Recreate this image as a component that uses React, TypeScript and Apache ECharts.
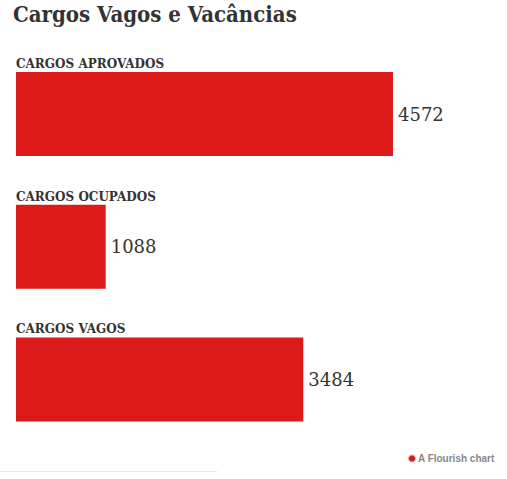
import React, { useEffect, useRef } from "react";
import * as echarts from "echarts";

const categories = ["CARGOS APROVADOS", "CARGOS OCUPADOS", "CARGOS VAGOS"];
const values = [4572, 1088, 3484];
const titleText = "Cargos Vagos e Vacâncias";
const creditText = "A Flourish chart";

const SERIF = "'DejaVu Serif Condensed', 'DejaVu Serif', 'Liberation Serif', serif";
const SERIF_W = "'DejaVu Serif', 'Liberation Serif', serif";

export default function App() {
  const ref = useRef<HTMLDivElement>(null);
  useEffect(() => {
    if (!ref.current) return;
    const chart = echarts.init(ref.current, null, { renderer: "svg" });
    chart.setOption({
      animation: false,
      title: {
        text: titleText,
        left: 13,
        top: 3,
        padding: 0,
        textStyle: { fontFamily: SERIF, fontSize: 22, fontWeight: "bold", color: "#333" },
      },
      grid: { left: 16, top: 47.65, width: 453.5, height: 398.2, containLabel: false },
      xAxis: {
        type: "value",
        min: 0,
        max: 5500,
        show: false,
      },
      yAxis: {
        type: "category",
        data: categories,
        inverse: true,
        axisLine: { show: false },
        axisTick: { show: false },
        splitLine: { show: false },
        axisLabel: {
          inside: true,
          margin: 0,
          align: "left",
          verticalAlign: "bottom",
          padding: [0, 0, 44, 0],
          fontFamily: SERIF_W,
          fontSize: 12,
          fontWeight: "bold",
          color: "#333",
        },
      },
      series: [
        {
          type: "bar",
          data: values,
          barWidth: 84,
          itemStyle: { color: "#dc1a1a" },
          label: {
            show: true,
            position: "right",
            distance: 5,
            fontFamily: SERIF_W,
            fontSize: 18,
            color: "#333",
          },
        },
      ],
      graphic: [
        {
          type: "circle",
          shape: { cx: 412, cy: 458.5, r: 3.5 },
          style: { fill: "#cc1f1f", stroke: "#f0a0a0", lineWidth: 1 },
        },
        {
          type: "text",
          x: 418,
          y: 458.5,
          style: {
            text: creditText,
            font: "bold 10px 'Liberation Sans', Arial, sans-serif",
            fill: "#888",
            textVerticalAlign: "middle",
          },
        },
        {
          type: "line",
          shape: { x1: 0, y1: 471.5, x2: 217, y2: 471.5 },
          style: { stroke: "#e8e8e8", lineWidth: 1 },
        },
      ],
    });
    return () => chart.dispose();
  }, []);
  return (
    <div
      ref={ref}
      style={{ position: "absolute", left: 0, top: 0, width: 507, height: 479 }}
    />
  );
}
